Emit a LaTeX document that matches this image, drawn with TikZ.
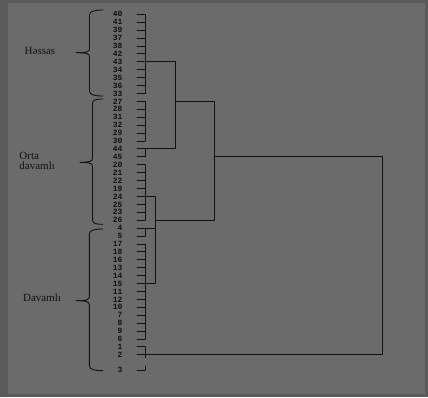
\documentclass[tikz,border=0pt]{standalone}
\usepackage{fontspec}
\setmainfont{Liberation Serif}
\newfontfamily\numfont{Liberation Mono}
\usepackage{xcolor}

\definecolor{sfondo}{HTML}{6B6B6B}
\definecolor{bordo}{HTML}{5A5A5A}
\definecolor{inchiostro}{HTML}{121212}

\begin{document}
\begin{tikzpicture}[x=1pt, y=-1pt, line cap=round, line join=round, line width=.9pt, color=inchiostro,
    num/.style={anchor=east, inner sep=0pt, font=\numfont\bfseries\fontsize{8}{8}\selectfont},
    gruppo/.style={inner sep=0pt, align=left, font=\fontsize{11}{10.5}\selectfont}]

% Sfondo
\useasboundingbox (0,0) rectangle (428,397);
\fill[bordo] (0,0) rectangle (428,397);
\fill[sfondo] (8,3) rectangle (425,394);

% Numeri e tacche
\foreach \n [count=\i from 0] in {40,41,39,37,38,42,43,34,35,36,33,27,28,31,32,29,30,44,45,20,21,22,19,24,25,23,26,4,5,17,18,16,13,14,15,11,12,10,7,8,9,6,1,2} {
  \node[num] (n\n) at (122.8,{14.3+7.92*\i}) {\n};
  \coordinate (t\n) at (145,{14.3+7.92*\i});
  \draw (t\n) -- ++(-8,0);
}
\node[num] (n3) at (122.8,370) {3};
\coordinate (t3) at (145,370);
\draw (t3) -- ++(-8,0) (t3) -- ++(0,-4);

% Gruppi di base
\draw (t40) -- (t33);
\draw (t27) -- (t30);
\draw (t44) -- (t45);
\draw (t20) -- (t26);
\draw (t4) -- (t5);
\draw (t17) -- (t6);
\draw (t1) -- ([yshift=-2.5pt]t2);

% Livelli di unione
\coordinate (c1) at (155,0);
\coordinate (c2) at (175,0);
\coordinate (c3) at (214,0);
\coordinate (c4) at (382,0);

\draw (t43) -| (c2 |- t44) -- (t44);
\draw (c2 |- t27) -| (c3 |- t26) -- (c1 |- t26);
\draw (t24) -| (c1 |- t15) -- (t15);
\draw (t4) -- (c1 |- t4);
\draw (c3 |- t45) -| (c4 |- t2) -- (t2);

% Parentesi
\foreach \a/\m/\b/\xx/\tip in {10/52.7/96/89.5/76, 99/162.3/224.3/92.5/80, 229/300.7/370.7/89.3/76} {
  \draw (103,\a) .. controls (95,\a) and (\xx,\a+1) .. (\xx,\a+5)
    -- (\xx,\m-4) .. controls (\xx,\m-1) and (\xx-3,\m) .. (\tip,\m)
    .. controls (\xx-3,\m) and (\xx,\m+1) .. (\xx,\m+4)
    -- (\xx,\b-5) .. controls (\xx,\b-1) and (95,\b) .. (103,\b);
}

% Etichette
\node[gruppo] (hassas) at (40,51) {Həssas};
\node[gruppo, anchor=west] (orta) at (19,161) {Orta\\davamlı};
\node[gruppo] (davamli) at (42,298) {Davamlı};

\end{tikzpicture}
\end{document}
